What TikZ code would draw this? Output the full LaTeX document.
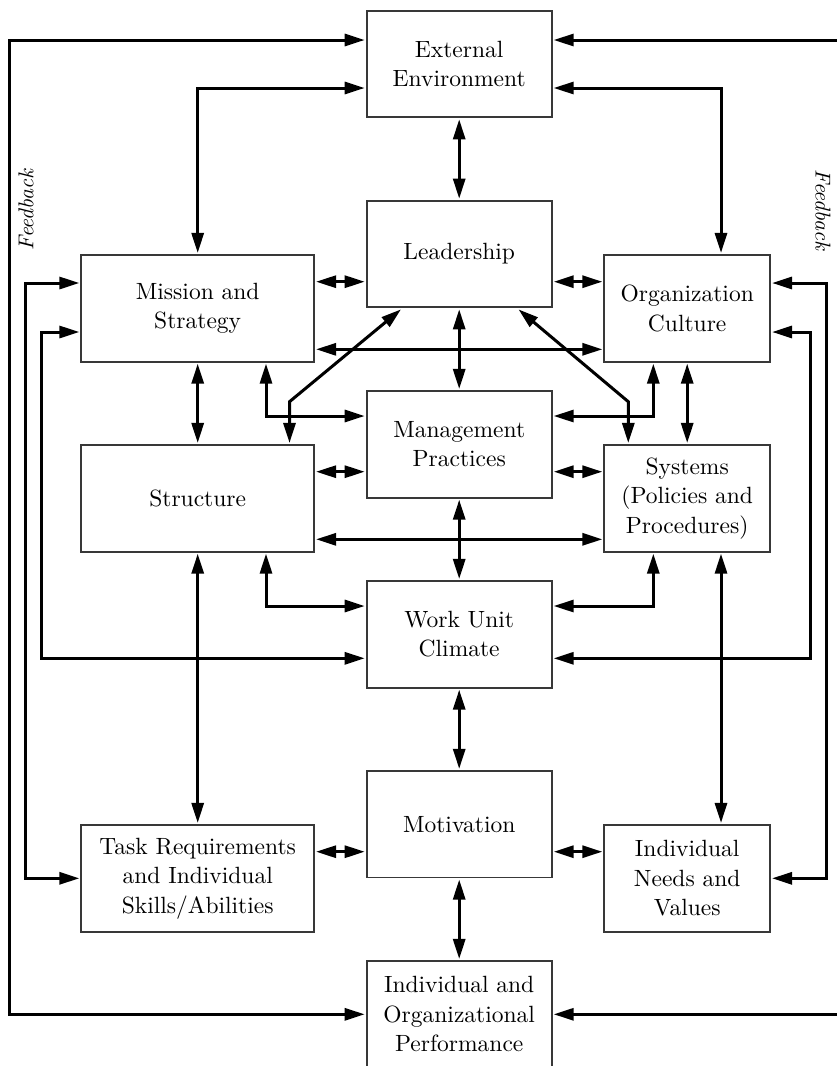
\documentclass[tikz,border=0pt]{standalone}
\usetikzlibrary{arrows.meta}
% Latin Modern at its 10pt design size, scaled up (heavier and wider than the 17pt cut)
\DeclareFontFamily{TU}{lmten}{}
\DeclareFontShape{TU}{lmten}{m}{n}{<-> "[lmroman10-regular]:+tlig;"}{}
\DeclareFontShape{TU}{lmten}{m}{it}{<-> "[lmroman10-italic]:+tlig;"}{}
\begin{document}
\begin{tikzpicture}[x=1pt,y=-1pt,
  box/.style={draw=black!78, line width=1.8pt, minimum height=106.7pt,
    inner sep=0pt, outer sep=2pt, align=center,
    font=\fontfamily{lmten}\fontsize{23.5}{29.5}\selectfont},
  widebox/.style={box, minimum width=232.7pt},
  midbox/.style={box, minimum width=185pt},
  slimbox/.style={box, minimum width=165.7pt},
  link/.style={line width=3pt,
    {Triangle[length=20pt,width=12pt]}-{Triangle[length=20pt,width=12pt]}},
  fb/.style={font=\fontfamily{lmten}\fontsize{21.5}{26}\selectfont\itshape, inner sep=0pt}
]
\useasboundingbox (0,0) rectangle (836,1066);

% ---- boxes ----
\node[midbox]  (ext)       at (459.2,64)    {External\\Environment};
\node[midbox]  (lead)      at (459.2,254)   {Leadership};
\node[widebox] (mission)   at (197.7,308.3) {Mission and\\Strategy};
\node[slimbox] (culture)   at (687.2,308.3) {Organization\\Culture};
\node[midbox]  (mgmt)      at (459.2,444.3) {Management\\Practices};
\node[widebox] (structure) at (197.7,498.3) {Structure};
\node[slimbox] (systems)   at (687.2,498.3) {Systems\\(Policies and\\Procedures)};
\node[midbox]  (climate)   at (459.2,634.3) {Work Unit\\Climate};
\node[midbox]  (motiv)     at (459.2,824.2) {Motivation};
\node[widebox] (task)      at (197.7,878.3) {Task Requirements\\and Individual\\Skills/Abilities};
\node[slimbox] (needs)     at (687.2,878.3) {Individual\\Needs and\\Values};
\node[midbox]  (perf)      at (459.2,1014.3) {Individual and\\Organizational\\Performance};

% ---- feedback labels ----
\node[fb, rotate=90]  (fbLeft)  at (26,210)  {Feedback};
\node[fb, rotate=-90] (fbRight) at (823,210) {Feedback};

% ---- routing points ----
\coordinate (fbA) at (9,40);
\coordinate (fbB) at (25,283);
\coordinate (fbC) at (41,332);
\coordinate (fbD) at (845,40);
\coordinate (fbE) at (826,283);
\coordinate (fbF) at (810,332);
\coordinate (envM) at (197.7,88);
\coordinate (envC) at (721,88);
\coordinate (lvlA) at (0,281.7);
\coordinate (lvlB) at (0,349.3);
\coordinate (lvlC) at (0,471.7);
\coordinate (lvlD) at (0,539.3);
\coordinate (lvlE) at (0,851.7);
\coordinate (lvlF) at (0,658.3);
\coordinate (cMM) at (266,416);
\coordinate (cCM) at (653.3,416);
\coordinate (cSC) at (266,606);
\coordinate (cYC) at (653.3,606);
\coordinate (kS) at (289.5,401.7);
\coordinate (tS) at (401,0);
\coordinate (kY) at (628.3,401.7);
\coordinate (tY) at (518.5,0);
\coordinate (vN) at (721,0);

% ---- feedback loops ----
\draw[link] (ext.west |- fbA) -- (fbA) -- (fbA |- perf.west) -- (perf.west);
\draw[link] (mission.west |- fbB) -- (fbB) -- (fbB |- task.west) -- (task.west);
\draw[link] (mission.west |- fbC) -- (fbC) -- (fbC |- lvlF) -- (climate.west |- lvlF);
\draw[link] (ext.east |- fbD) -- (fbD) -- (fbD |- perf.east) -- (perf.east);
\draw[link] (culture.east |- fbE) -- (fbE) -- (fbE |- needs.east) -- (needs.east);
\draw[link] (culture.east |- fbF) -- (fbF) -- (fbF |- lvlF) -- (climate.east |- lvlF);

% ---- environment links ----
\draw[link] (ext.west |- envM) -- (envM) -- (mission.north);
\draw[link] (ext.east |- envC) -- (envC) -- (envC |- culture.north);
\draw[link] (ext.south) -- (lead.north);

% ---- central column ----
\draw[link] (lead.south) -- (mgmt.north);
\draw[link] (mgmt.south) -- (climate.north);
\draw[link] (climate.south) -- (motiv.north);
\draw[link] (motiv.south) -- (perf.north);

% ---- horizontal links ----
\draw[link] (mission.east |- lvlA) -- (lead.west |- lvlA);
\draw[link] (lead.east |- lvlA) -- (culture.west |- lvlA);
\draw[link] (mission.east |- lvlB) -- (culture.west |- lvlB);
\draw[link] (structure.east |- lvlC) -- (mgmt.west |- lvlC);
\draw[link] (mgmt.east |- lvlC) -- (systems.west |- lvlC);
\draw[link] (structure.east |- lvlD) -- (systems.west |- lvlD);
\draw[link] (task.east |- lvlE) -- (motiv.west |- lvlE);
\draw[link] (motiv.east |- lvlE) -- (needs.west |- lvlE);

% ---- vertical links on the sides ----
\draw[link] (mission.south) -- (structure.north);
\draw[link] (culture.south) -- (systems.north);
\draw[link] (structure.south) -- (task.north);
\draw[link] (vN |- systems.south) -- (vN |- needs.north);

% ---- elbow links to the centre ----
\draw[link] (cMM |- mission.south) -- (cMM) -- (mgmt.west |- cMM);
\draw[link] (cCM |- culture.south) -- (cCM) -- (mgmt.east |- cCM);
\draw[link] (cSC |- structure.south) -- (cSC) -- (climate.west |- cSC);
\draw[link] (cYC |- systems.south) -- (cYC) -- (climate.east |- cYC);

% ---- diagonal links from leadership ----
\draw[link] (tS |- lead.south) -- (kS) -- (kS |- structure.north);
\draw[link] (tY |- lead.south) -- (kY) -- (kY |- systems.north);
\end{tikzpicture}
\end{document}
